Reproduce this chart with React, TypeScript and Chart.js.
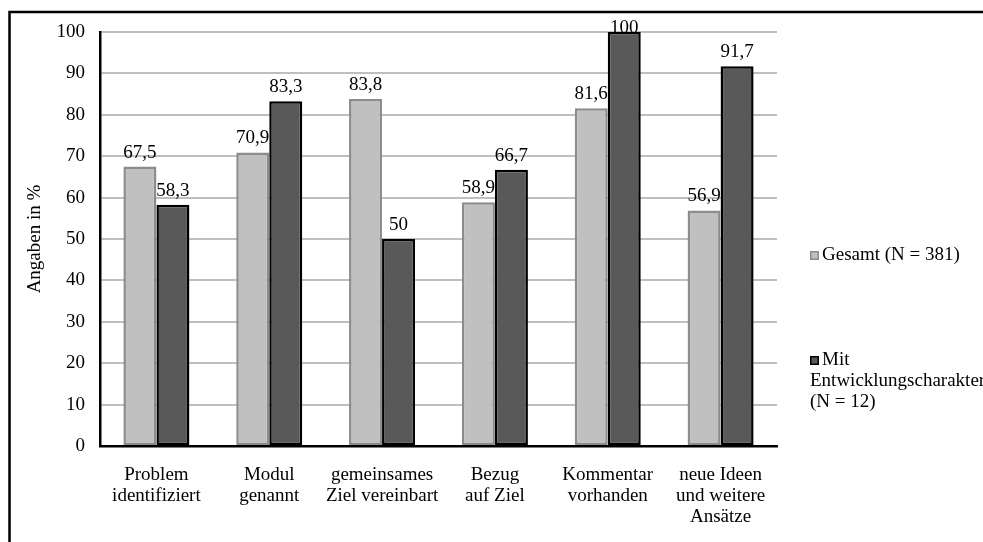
import { useEffect, useRef } from "react";
import { Chart, registerables } from "chart.js";

Chart.register(...registerables);

const categories: string[][] = [
  ["Problem", "identifiziert"],
  ["Modul", "genannt"],
  ["gemeinsames", "Ziel vereinbart"],
  ["Bezug", "auf Ziel"],
  ["Kommentar", "vorhanden"],
  ["neue Ideen", "und weitere", "Ansätze"],
];
const gesamtValues = [67.5, 70.9, 83.8, 58.9, 81.6, 56.9];
const mitValues = [58.3, 83.3, 50, 66.7, 100, 91.7];
const seriesNames = ["Gesamt (N = 381)", "Mit Entwicklungscharakter (N = 12)"];
const legendLines: string[][] = [["Gesamt (N = 381)"], ["Mit", "Entwicklungscharakter", "(N = 12)"]];
const yAxisTitle = "Angaben in %";

const FONT = "Liberation Serif, 'Times New Roman', serif";
const FS = 19;
const LIGHT = "#c0c0c0";
const LIGHT_BORDER = "#8c8c8c";
const DARK = "#595959";
const DARK_BORDER = "#000000";

const fmt = (v: number) => String(v).replace(".", ",");

const decorPlugin = {
  id: "decor",
  afterDatasetsDraw(chart: any) {
    const ctx = chart.ctx;
    const area = chart.chartArea;
    ctx.save();
    ctx.font = `${FS}px ${FONT}`;
    ctx.fillStyle = "#000";
    ctx.textAlign = "center";
    ctx.textBaseline = "alphabetic";
    chart.data.datasets.forEach((ds: any, di: number) => {
      const meta = chart.getDatasetMeta(di);
      meta.data.forEach((el: any, i: number) => {
        const y = Math.max(el.y - 9, area.top + 1);
        ctx.fillText(fmt(ds.data[i]), el.x, y);
      });
    });
    ctx.restore();
  },
  afterDraw(chart: any) {
    const ctx = chart.ctx;
    const area = chart.chartArea;
    ctx.save();
    // outer frame
    ctx.strokeStyle = "#000";
    ctx.lineWidth = 2.5;
    ctx.strokeRect(9.5, 12, 3000, 3000);
    // y-axis title
    ctx.font = `${FS}px ${FONT}`;
    ctx.fillStyle = "#000";
    ctx.save();
    ctx.translate(35, (area.top + area.bottom) / 2);
    ctx.rotate(-Math.PI / 2);
    ctx.textAlign = "center";
    ctx.textBaseline = "middle";
    ctx.fillText(yAxisTitle, 0, 0);
    ctx.restore();
    // legend
    const lx = 810;
    const markers = [
      { y: 255, fill: LIGHT, stroke: LIGHT_BORDER },
      { y: 360, fill: DARK, stroke: DARK_BORDER },
    ];
    ctx.textAlign = "left";
    ctx.textBaseline = "middle";
    markers.forEach((m, i) => {
      ctx.fillStyle = m.fill;
      ctx.fillRect(lx, m.y - 4, 9, 9);
      ctx.strokeStyle = m.stroke;
      ctx.lineWidth = 1.5;
      ctx.strokeRect(lx + 0.75, m.y - 3.25, 7.5, 7.5);
      ctx.fillStyle = "#000";
      legendLines[i].forEach((line, li) => {
        ctx.fillText(line, li === 0 ? lx + 12 : lx, m.y + li * 21);
      });
    });
    ctx.restore();
  },
};

export default function App() {
  const ref = useRef<HTMLCanvasElement | null>(null);
  useEffect(() => {
    if (!ref.current) return;
    const chart = new Chart(ref.current, {
      type: "bar",
      data: {
        labels: categories,
        datasets: [
          {
            label: seriesNames[0],
            data: gesamtValues,
            backgroundColor: LIGHT,
            borderColor: LIGHT_BORDER,
            borderWidth: 2.5,
            borderSkipped: false,
          },
          {
            label: seriesNames[1],
            data: mitValues,
            backgroundColor: DARK,
            borderColor: DARK_BORDER,
            borderWidth: 2.5,
            borderSkipped: false,
          },
        ],
      },
      options: {
        responsive: false,
        animation: false,
        devicePixelRatio: 1,
        layout: { padding: { left: 0, top: 32, right: 206, bottom: 0 } },
        datasets: { bar: { barPercentage: 1, categoryPercentage: 0.585 } },
        plugins: {
          legend: { display: false },
          tooltip: { enabled: false },
        },
        scales: {
          x: {
            grid: { display: false, drawTicks: false },
            border: { display: true, color: "#000", width: 2.5 },
            ticks: {
              color: "#000",
              font: { family: FONT, size: FS, lineHeight: 1.1 },
              padding: 19,
              maxRotation: 0,
              autoSkip: false,
            },
            afterFit: (s: any) => {
              s.height = 96;
            },
          },
          y: {
            min: 0,
            max: 100,
            ticks: {
              stepSize: 10,
              color: "#000",
              font: { family: FONT, size: FS },
              padding: 15,
            },
            grid: { color: "#bfbfbf", lineWidth: 2, drawTicks: false },
            border: { display: true, color: "#000", width: 2.5 },
            afterFit: (s: any) => {
              s.width = 100;
            },
          },
        },
      },
      plugins: [decorPlugin],
    });
    return () => chart.destroy();
  }, []);
  return (
    <canvas
      ref={ref}
      width={983}
      height={542}
      style={{ position: "fixed", left: 0, top: 0, width: 983, height: 542, background: "#fff" }}
    />
  );
}
